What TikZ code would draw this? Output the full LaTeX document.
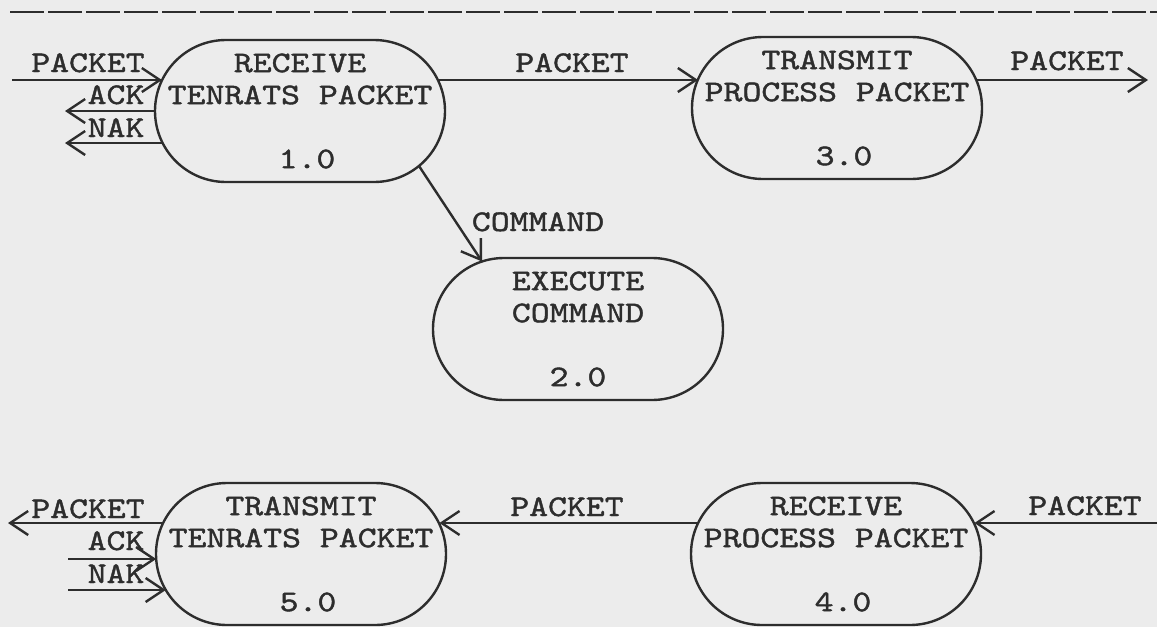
\documentclass[tikz,border=0pt]{standalone}
\usepackage{fontspec}
\setmonofont{lmmono10-regular}[Extension=.otf, FakeStretch=1.2, FakeBold=1.4]
\usetikzlibrary{shapes.misc,arrows.meta,calc}
\definecolor{paper}{RGB}{236,236,236}
\definecolor{ink}{RGB}{45,45,45}
\begin{document}
\begin{tikzpicture}[x=1pt,y=1pt,
  proc/.style={rounded rectangle, draw=ink, line width=2.4pt, minimum width=290pt, minimum height=142pt, inner sep=0pt},
  ptext/.style={font=\ttfamily\fontsize{30}{32}\selectfont, text=ink, align=center, inner sep=0pt},
  lab/.style={font=\ttfamily\fontsize{30}{32}\selectfont, text=ink, inner sep=0pt, anchor=base},
  flow/.style={draw=ink, line width=2.4pt, -{Straight Barb[length=18pt,width=24pt]}},
  sep/.style={draw=ink, line width=2pt, dash pattern=on 34pt off 4pt}
]
\useasboundingbox (0,0) rectangle (1157,-627);
\fill[paper] (0,0) rectangle (1157,-627);

% separator line
\coordinate (sepL) at (10,-12);
\coordinate (sepR) at (1157,-12);
\draw[sep] (sepL) -- (sepR);

% processes
\node[proc] (n1) at (300,-111) {};
\node[proc] (n3) at (837,-108) {};
\node[proc] (n2) at (578,-329) {};
\node[proc] (n5) at (301,-554) {};
\node[proc] (n4) at (836,-554) {};

\node[ptext] (t1) at (n1) {RECEIVE\\TENRATS PACKET\\[32pt]\hspace*{14pt}1.0};
\node[ptext] (t3) at (n3) {TRANSMIT\\PROCESS PACKET\\[32pt]\hspace*{14pt}3.0};
\node[ptext] (t2) at (n2) {EXECUTE\\COMMAND\\[32pt]2.0};
\node[ptext] (t5) at (n5) {TRANSMIT\\TENRATS PACKET\\[32pt]\hspace*{14pt}5.0};
\node[ptext] (t4) at (n4) {RECEIVE\\PROCESS PACKET\\[32pt]\hspace*{14pt}4.0};

% free ends
\coordinate (inA) at (12,-80);
\coordinate (ackA) at (65,-111);
\coordinate (nakA) at (65,-143);
\coordinate (outA) at (1148,-80);
\coordinate (outB) at (8,-523);
\coordinate (ackB) at (68,-559);
\coordinate (nakB) at (68,-590);
\coordinate (inB) at (1157,-523);

% top row connectors
\draw[flow] (inA) -- ($(n1.center)+(-138,31)$);
\draw[flow] (n1.west) -- (ackA);
\draw[flow] ($(n1.center)+(-137.4,-32)$) -- (nakA);
\draw[flow] ($(n1.center)+(138,31)$) -- ($(n3.center)+(-139,28)$);
\draw[flow] ($(n3.center)+(139,28)$) -- (outA);
\draw[flow] ($(n1.center)+(119,-55)$) -- ($(n2.center)+(-96,67.5)$);

% bottom row connectors
\draw[flow] ($(n5.center)+(-138.4,31)$) -- (outB);
\draw[flow] (ackB) -- ($(n5.center)+(-144.8,-5)$);
\draw[flow] (nakB) -- ($(n5.center)+(-135.2,-36)$);
\draw[flow] ($(n4.center)+(-138.4,31)$) -- ($(n5.center)+(138.4,31)$);
\draw[flow] (inB) -- ($(n4.center)+(138.4,31)$);

% labels
\node[lab] (lA) at (88,-72) {PACKET};
\node[lab] (lAck) at (116,-104) {ACK};
\node[lab] (lNak) at (116,-137) {NAK};
\node[lab] (l13) at (572,-72) {PACKET};
\node[lab] (lOut) at (1067,-70) {PACKET};
\node[lab] (lCmd) at (538,-231) {COMMAND};
\node[lab] (lB) at (88,-518) {PACKET};
\node[lab] (lAckB) at (116,-550) {ACK};
\node[lab] (lNakB) at (116,-583) {NAK};
\node[lab] (l45) at (567,-516) {PACKET};
\node[lab] (lIn) at (1085,-515) {PACKET};
\end{tikzpicture}
\end{document}
